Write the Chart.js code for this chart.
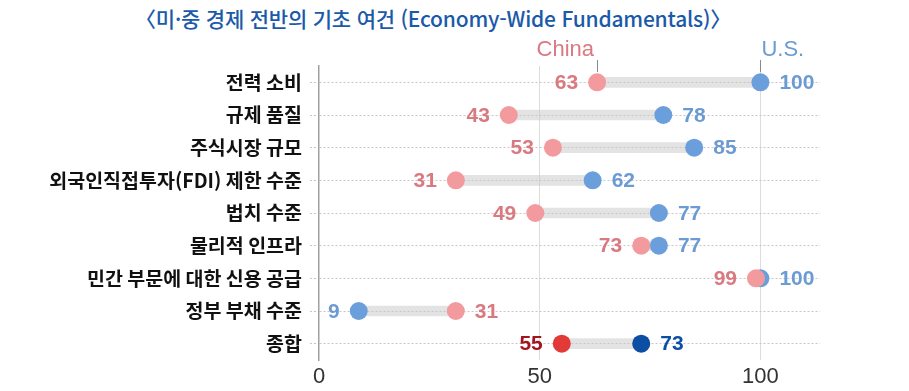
<!DOCTYPE html>
<html lang="ko">
<head>
<meta charset="utf-8">
<script src="https://cdn.jsdelivr.net/npm/chart.js@4.4.1/dist/chart.umd.min.js"></script>
<style>
  html, body { margin: 0; padding: 0; background: #fff; }
  #wrap { position: relative; width: 909px; height: 391px; }
  #title {
    position: absolute; left: 0; top: 3px; width: 866px; text-align: center;
    font-family: "Noto Sans CJK KR", sans-serif; font-weight: 500; font-size: 21px;
    color: #1b5aa8; white-space: nowrap; letter-spacing: -0.2px;
  }
  canvas { position: absolute; left: 0; top: 0; }
</style>
</head>
<body>
<div id="wrap">
  <div id="title">〈미·중 경제 전반의 기초 여건 (Economy-Wide Fundamentals)〉</div>
  <canvas id="chart" width="909" height="391"></canvas>
</div>
<script>
// 항목 (위에서 아래 순서)
const categories = [
  '전력 소비',
  '규제 품질',
  '주식시장 규모',
  '외국인직접투자(FDI) 제한 수준',
  '법치 수준',
  '물리적 인프라',
  '민간 부문에 대한 신용 공급',
  '정부 부채 수준',
  '종합'
];
const chinaValues = [63, 43, 53, 31, 49, 73, 99, 31, 55];
const usValues = [100, 78, 85, 62, 77, 77, 100, 9, 73];
const xTicks = [0, 50, 100];

// 색상
const CHINA_DOT = '#f29a9e';
const CHINA_TEXT = '#d97980';
const US_DOT = '#6b9fdc';
const US_TEXT = '#6c9bd4';
const CHINA_TOTAL_DOT = '#e23a37';
const CHINA_TOTAL_TEXT = '#a5141d';
const US_TOTAL_DOT = '#0b4ea3';
const US_TOTAL_TEXT = '#0b4ea3';

const lastIdx = categories.length - 1;
const chinaDotColors = categories.map((c, i) => i === lastIdx ? CHINA_TOTAL_DOT : CHINA_DOT);
const usDotColors = categories.map((c, i) => i === lastIdx ? US_TOTAL_DOT : US_DOT);

// 값 라벨 (작은 쪽은 왼쪽, 큰 쪽은 오른쪽)
const valueLabels = {
  id: 'valueLabels',
  afterDatasetsDraw(chart) {
    const ctx = chart.ctx;
    const usMeta = chart.getDatasetMeta(1);
    const chMeta = chart.getDatasetMeta(2);
    ctx.save();
    ctx.font = 'bold 21px "Liberation Sans", Arial, sans-serif';
    ctx.textBaseline = 'middle';
    categories.forEach((cat, i) => {
      const ch = chMeta.data[i];
      const us = usMeta.data[i];
      const chColor = i === lastIdx ? CHINA_TOTAL_TEXT : CHINA_TEXT;
      const usColor = i === lastIdx ? US_TOTAL_TEXT : US_TEXT;
      const chLeft = chinaValues[i] <= usValues[i];
      const draw = (el, val, color, left) => {
        ctx.fillStyle = color;
        ctx.textAlign = left ? 'right' : 'left';
        ctx.fillText(String(val), el.x + (left ? -19 : 19), el.y + 1);
      };
      draw(ch, chinaValues[i], chColor, chLeft);
      draw(us, usValues[i], usColor, !chLeft);
    });
    ctx.restore();
  }
};

// 상단 China / U.S. 표시
const seriesTags = {
  id: 'seriesTags',
  afterDatasetsDraw(chart) {
    const ctx = chart.ctx;
    const us0 = chart.getDatasetMeta(1).data[0];
    const ch0 = chart.getDatasetMeta(2).data[0];
    ctx.save();
    ctx.font = '22px "Liberation Sans", Arial, sans-serif';
    ctx.textBaseline = 'alphabetic';
    ctx.fillStyle = CHINA_TEXT;
    ctx.textAlign = 'right';
    ctx.fillText('China', ch0.x - 3, 56);
    ctx.fillStyle = US_TEXT;
    ctx.textAlign = 'left';
    ctx.fillText('U.S.', us0.x + 1, 56);
    ctx.strokeStyle = '#8a8a8a';
    ctx.lineWidth = 1;
    [ch0.x, us0.x].forEach(x => {
      ctx.beginPath();
      ctx.moveTo(Math.round(x) + 0.5, 60);
      ctx.lineTo(Math.round(x) + 0.5, 72);
      ctx.stroke();
    });
    ctx.restore();
  }
};

new Chart(document.getElementById('chart'), {
  type: 'bar',
  data: {
    labels: categories,
    datasets: [
      {
        // 연결 막대
        type: 'bar',
        indexAxis: 'y',
        data: categories.map((c, i) => [chinaValues[i], usValues[i]]),
        backgroundColor: 'rgba(200,200,200,0.5)',
        borderWidth: 0,
        borderSkipped: false,
        barThickness: 10,
        order: 3
      },
      {
        type: 'line',
        indexAxis: 'y',
        label: 'U.S.',
        data: usValues,
        showLine: false,
        pointRadius: 9,
        pointHoverRadius: 9,
        pointBorderWidth: 0,
        pointBackgroundColor: usDotColors,
        order: 2
      },
      {
        type: 'line',
        indexAxis: 'y',
        label: 'China',
        data: chinaValues,
        showLine: false,
        pointRadius: 9,
        pointHoverRadius: 9,
        pointBorderWidth: 0,
        pointBackgroundColor: chinaDotColors,
        order: 1
      }
    ]
  },
  options: {
    indexAxis: 'y',
    responsive: false,
    animation: false,
    layout: { padding: { top: 66, right: 89, bottom: 0, left: 0 } },
    plugins: {
      legend: { display: false },
      tooltip: { enabled: false },
      title: { display: false }
    },
    scales: {
      x: {
        type: 'linear',
        min: 0,
        max: 113.5,
        afterBuildTicks(scale) {
          scale.ticks = xTicks.map(v => ({ value: v }));
        },
        afterFit(scale) { scale.height = 31; },
        ticks: {
          color: '#333333',
          padding: 4,
          font: { family: '"Liberation Sans", Arial, sans-serif', size: 22 }
        },
        grid: {
          color: ctx => (ctx.tick && ctx.tick.value === 0) ? 'rgba(0,0,0,0)' : '#dcdcdc',
          lineWidth: 1,
          drawTicks: false
        },
        border: { display: false }
      },
      y: {
        type: 'category',
        offset: true,
        afterFit(scale) { scale.width = 319; },
        ticks: {
          color: '#111111',
          padding: 8,
          font: { family: '"Noto Sans CJK KR", sans-serif', size: 19.5, weight: 'bold' }
        },
        grid: {
          offset: false,
          color: '#c6c6c6',
          lineWidth: 1,
          drawTicks: true,
          tickLength: 9,
          tickColor: '#c6c6c6',
          tickBorderDash: [2, 2]
        },
        border: { display: true, color: '#a0a0a0', width: 1.5, dash: [2, 2] }
      }
    }
  },
  plugins: [valueLabels, seriesTags]
});
</script>
</body>
</html>
